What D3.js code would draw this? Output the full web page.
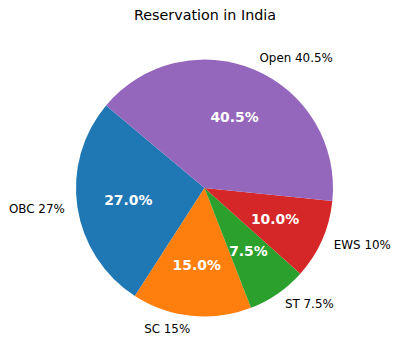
<!DOCTYPE html>
<html><head><meta charset="utf-8">
<script src="https://cdn.jsdelivr.net/npm/d3@7"></script>
<style>body{margin:0;background:#fff}svg{display:block}text{font-family:"DejaVu Sans",sans-serif}</style>
</head><body><svg id="c" width="400" height="357"></svg>
<script>
const categories = ["OBC", "SC", "ST", "EWS", "Open"];
const labels = ["OBC 27%", "SC 15%", "ST 7.5%", "EWS 10%", "Open 40.5%"];
const values = [27, 15, 7.5, 10, 40.5];
const colors = ["#1f77b4", "#ff7f0e", "#2ca02c", "#d62728", "#9467bd"];

const W = 400, H = 357, cx = 204.5, cy = 188, R = 128.5;
const startDeg = 140; // matplotlib startangle (CCW from +x)
const svg = d3.select("#c");
svg.append("text").attr("x", 205).attr("y", 20).attr("text-anchor", "middle")
  .attr("font-size", 14.3).attr("fill", "#000").text("Reservation in India");

const a0 = (90 - startDeg) * Math.PI / 180;
const pie = d3.pie().sort(null).startAngle(a0).endAngle(a0 - 2 * Math.PI);
const arcs = pie(values);
const arc = d3.arc().innerRadius(0).outerRadius(R);
const g = svg.append("g").attr("transform", `translate(${cx},${cy})`);
g.selectAll("path").data(arcs).enter().append("path")
  .attr("d", arc).attr("fill", (d, i) => colors[i]);

const total = d3.sum(values);
arcs.forEach((d, i) => {
  const m = (d.startAngle + d.endAngle) / 2; // d3 angle, clockwise from 12
  const x = Math.sin(m), y = -Math.cos(m);
  g.append("text").attr("x", 1.1 * R * x).attr("y", 1.1 * R * y)
    .attr("text-anchor", x > 0 ? "start" : "end").attr("dominant-baseline", "central")
    .attr("font-size", 11.9).attr("fill", "#000").text(labels[i]);
  g.append("text").attr("x", 0.6 * R * x).attr("y", 0.6 * R * y)
    .attr("text-anchor", "middle").attr("dominant-baseline", "central")
    .attr("font-size", 13.9).attr("font-weight", "bold").attr("fill", "#fff")
    .text((values[i] / total * 100).toFixed(1) + "%");
});
</script></body></html>
